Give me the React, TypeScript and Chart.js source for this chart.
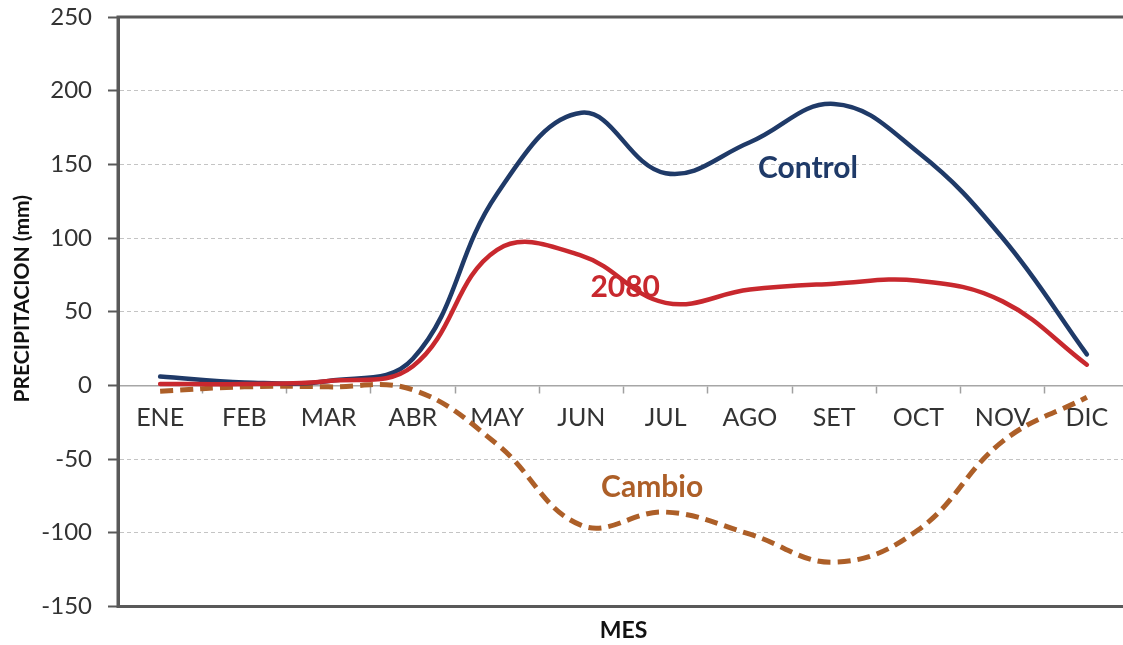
import React, { useEffect, useRef } from 'react';
import { Chart, registerables } from 'chart.js';

Chart.register(...registerables);

// ---- data ----
const months = ['ENE', 'FEB', 'MAR', 'ABR', 'MAY', 'JUN', 'JUL', 'AGO', 'SET', 'OCT', 'NOV', 'DIC'];
const controlValues = [6, 2, 3, 18, 130, 185, 144, 165, 191, 158, 100, 21];
const values2080 = [1, 1, 3, 13, 92, 88, 56, 65, 69, 71, 57, 14];
const cambioValues = [-4, -1, -1, -3, -40, -95, -86, -101, -120, -98, -38, -8];
const yMin = -150;
const yMax = 250;
const yStep = 50;

const seriesLabels = ['Control', '2080', 'Cambio'];
const yTitle = 'PRECIPITACION (mm)';
const xTitle = 'MES';

const FONT = 'Lato, "Open Sans", "DejaVu Sans", sans-serif';
const NAVY = '#1f3a68';
const RED = '#c8282e';
const BROWN = '#ad5f28';

export default function App() {
  const ref = useRef<HTMLCanvasElement>(null);

  useEffect(() => {
    const canvas = ref.current;
    if (!canvas) return;

    const decor = {
      id: 'decor',
      beforeDatasetsDraw(chart: any) {
        const { ctx, chartArea } = chart;
        ctx.save();
        ctx.strokeStyle = '#595959';
        ctx.lineWidth = 3;
        ctx.beginPath();
        ctx.moveTo(chartArea.right + 5, chartArea.top);
        ctx.lineTo(chartArea.left, chartArea.top);
        ctx.lineTo(chartArea.left, chartArea.bottom);
        ctx.lineTo(chartArea.right + 5, chartArea.bottom);
        ctx.stroke();
        ctx.restore();
      },
      afterDatasetsDraw(chart: any) {
        const { ctx, chartArea, scales } = chart;
        const xs = scales.x;
        const ys = scales.y;
        ctx.save();
        ctx.textAlign = 'center';
        ctx.textBaseline = 'middle';
        ctx.font = `bold 30px ${FONT}`;
        const labels: [string, number, number, string][] = [
          [seriesLabels[0], 7.69, 147, NAVY],
          [seriesLabels[1], 5.52, 66.5, RED],
          [seriesLabels[2], 5.84, -69, BROWN],
        ];
        labels.forEach(([t, xi, yv, c]) => {
          ctx.fillStyle = c;
          ctx.fillText(t, xs.getPixelForValue(xi), ys.getPixelForValue(yv));
        });
        // y-axis title
        ctx.fillStyle = '#111';
        ctx.font = `bold 21px ${FONT}`;
        ctx.translate(22, (chartArea.top + chartArea.bottom) / 2 - 13);
        ctx.rotate(-Math.PI / 2);
        ctx.fillText(yTitle, 0, 0);
        ctx.restore();
      },
    };

    const chart = new Chart(canvas, {
      type: 'line',
      data: {
        labels: months,
        datasets: [
          {
            label: seriesLabels[1],
            data: values2080,
            borderColor: RED,
            borderWidth: 4.5,
            borderCapStyle: 'round',
            pointRadius: 0,
            tension: 0.4,
            fill: false,
          },
          {
            label: seriesLabels[0],
            data: controlValues,
            borderColor: NAVY,
            borderWidth: 4.5,
            borderCapStyle: 'round',
            pointRadius: 0,
            tension: 0.4,
            fill: false,
          },
          {
            label: seriesLabels[2],
            data: cambioValues,
            borderColor: BROWN,
            borderWidth: 5,
            borderDash: [13, 7],
            borderCapStyle: 'butt',
            pointRadius: 0,
            tension: 0.4,
            fill: false,
          },
        ],
      },
      options: {
        animation: false,
        responsive: false,
        devicePixelRatio: 1,
        layout: { padding: { top: 17, right: 11, left: 0, bottom: 0 } },
        plugins: {
          legend: { display: false },
          tooltip: { enabled: false },
          title: {
            display: true,
            fullSize: false,
            position: 'bottom',
            text: xTitle,
            color: '#111',
            font: { family: FONT, size: 23, weight: 'bold' },
            padding: { top: 10, bottom: 1 },
          },
        },
        scales: {
          x: {
            type: 'category',
            offset: true,
            position: { y: 0 },
            grid: {
              display: true,
              drawOnChartArea: false,
              drawTicks: true,
              tickLength: 7,
              color: '#a0a0a0',
              tickColor: '#a0a0a0',
              tickWidth: 1.5,
              offset: true,
            },
            border: { display: true, color: '#a6a6a6', width: 1.5 },
            ticks: {
              color: '#333',
              font: { family: FONT, size: 25 },
              padding: 11,
              maxRotation: 0,
              autoSkip: false,
            },
          },
          y: {
            min: yMin,
            max: yMax,
            ticks: {
              stepSize: yStep,
              color: '#333',
              font: { family: FONT, size: 24 },
              padding: 16,
            },
            grid: {
              color: '#c4c4c4',
              lineWidth: 1,
              tickColor: '#595959',
              tickWidth: 2,
              tickLength: 10,
              tickBorderDash: [],
            },
            border: { display: true, color: '#595959', width: 3, dash: [4, 3] },
            afterFit: (s: any) => {
              s.width = 118;
              s.paddingTop = 0;
              s.paddingBottom = 0;
            },
          },
        },
      },
      plugins: [decor],
    } as any);

    return () => chart.destroy();
  }, []);

  return (
    <div
      style={{
        position: 'absolute',
        left: 0,
        top: 0,
        width: 1123,
        height: 645,
        overflow: 'hidden',
        background: '#fff',
      }}
    >
      <canvas ref={ref} width={1140} height={645} style={{ display: 'block' }} />
    </div>
  );
}
